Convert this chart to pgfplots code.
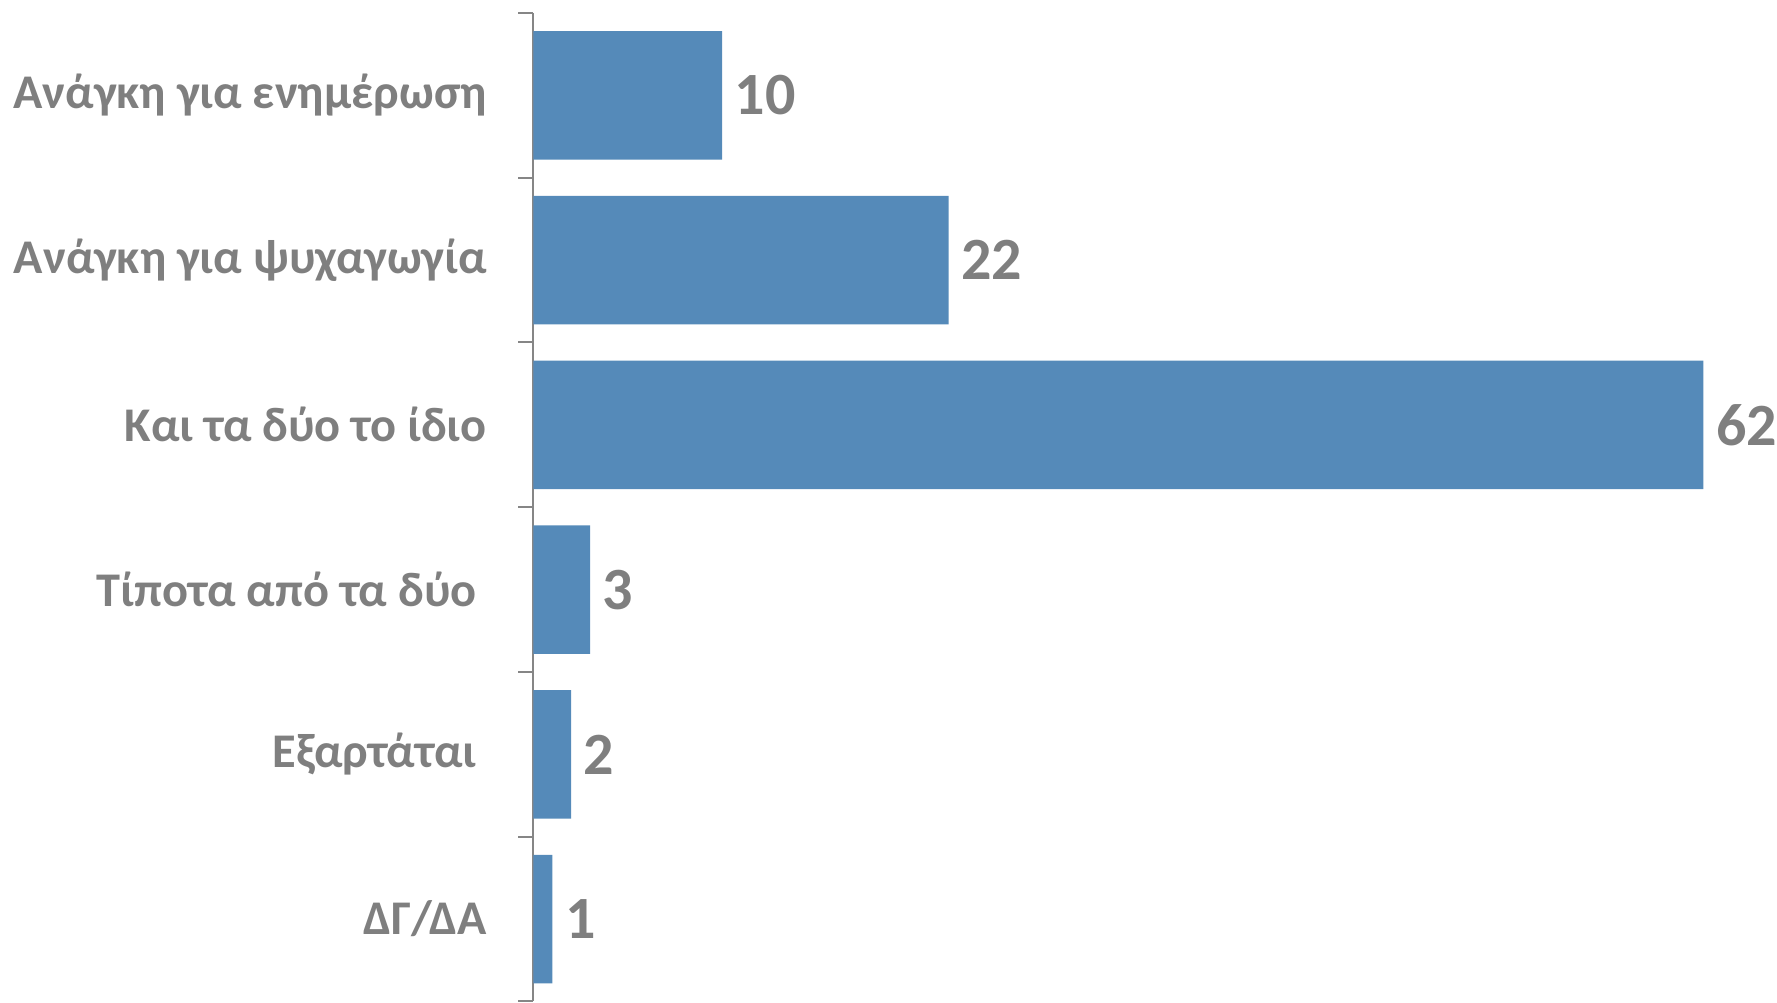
\documentclass[border=0pt]{standalone}
\usepackage{fontspec}
\setmainfont{Carlito}
\usepackage{pgfplots}
\pgfplotsset{compat=1.18}
\definecolor{barblue}{HTML}{558AB9}
\definecolor{txtgray}{HTML}{7F7F7F}
\definecolor{axgray}{HTML}{868686}

\begin{document}
\begin{tikzpicture}
\begin{axis}[
    xbar,
    scale only axis,
    width=312pt, height=247.25pt,
    xmin=0, xmax=66.1,
    ymin=-0.5, ymax=5.5,
    y dir=reverse,
    hide x axis,
    axis y line*=left,
    y axis line style={draw=axgray, line width=0.5pt, -},
    ytick={0,1,2,3,4,5},
    yticklabels={Ανάγκη για ενημέρωση, Ανάγκη για ψυχαγωγία, Και τα δύο το ίδιο, Τίποτα από τα δύο\hspace*{2.55pt}, Εξαρτάται\hspace*{2.55pt}, ΔΓ/ΔΑ},
    minor ytick={-0.5,0.5,1.5,2.5,3.5,4.5,5.5},
    tick align=outside,
    major tick length=0pt,
    minor tick length=3.75pt,
    minor tick style={draw=axgray, line width=0.5pt},
    yticklabel style={font=\fontsize{12.1}{14}\selectfont\bfseries, text=txtgray, anchor=east, inner sep=0pt, xshift=-11.5pt},
    bar width=0.78,
    nodes near coords,
    /pgf/number format/assume math mode=true,
    nodes near coords style={font=\fontsize{15}{17}\selectfont\bfseries, text=txtgray, anchor=west, inner sep=0pt, xshift=3pt},
]
\addplot[fill=barblue, draw=none] coordinates {
    (10,0)
    (22,1)
    (62,2)
    (3,3)
    (2,4)
    (1,5)
};
\end{axis}
\path ([yshift=3.25pt]current axis.north);
\path ([xshift=-3.4pt]current bounding box.west);
\end{tikzpicture}
\end{document}
